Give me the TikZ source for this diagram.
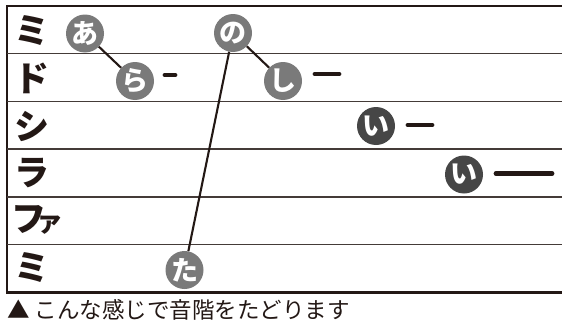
\documentclass[tikz,border=0pt]{standalone}
\usepackage{fontspec}
\setmainfont{Noto Sans CJK JP}
\definecolor{inkblack}{HTML}{231815}
\definecolor{notegray}{HTML}{7A7A7A}
\definecolor{notedark}{HTML}{464646}
\begin{document}
\begin{tikzpicture}[x=1pt,y=-1pt,
  note/.style={circle,fill=notegray,text=white,minimum size=38pt,inner sep=0pt,
    font=\fontsize{27}{27}\selectfont\bfseries},
  notelow/.style={note,fill=notedark},
  tone/.style={anchor=west,text=inkblack,inner sep=0pt,
    font=\fontsize{35}{35}\selectfont\bfseries},
  rowline/.style={draw=inkblack!85,line width=1.5pt},
  frameline/.style={draw=inkblack,line width=2.6pt},
  hold/.style={draw=inkblack,line width=4.8pt,line cap=round},
  jump/.style={draw=inkblack,line width=2.1pt}
  ]
\useasboundingbox (0,0) rectangle (562,324);
% staff
\draw[frameline] (562,6) -- (7,6) -- (7,292.5) -- (562,292.5);
\foreach \y in {53.7,101.4,149.1,196.8,244.5}
  \draw[rowline] (7,\y) -- (562,\y);
% scale names
\node[tone] (mi1) at (14,31) {ミ};
\node[tone] (do) at (14,78) {ド};
\node[tone] (si) at (14,126) {シ};
\node[tone] (la) at (14,173) {ラ};
\node[tone] (fa) at (11,220) {フ\kern-10pt{\fontsize{27}{27}\selectfont ァ}};
\node[tone] (mi2) at (14,268) {ミ};
% notes
\node[note] (a) at (85,33.5) {あ};
\node[note] (ra) at (135,81) {ら};
\node[note] (no) at (233,33) {の};
\node[note] (shi) at (283,81) {し};
\node[notelow] (i1) at (376,126) {い};
\node[notelow] (i2) at (464,174.5) {い};
\node[note] (ta) at (184.5,270) {た};
% long notes
\draw[hold] (165,75) -- (175,75);
\draw[hold] (315,74) -- (339,74);
\draw[hold] (408,125) -- (432,125);
\draw[hold] (496,173.5) -- (552,173.5);
% melody
\draw[jump] (a) -- (ra);
\draw[jump] (no) -- (shi);
\draw[jump] (no) -- (ta);
% caption
\node[anchor=west,inner sep=0pt,text=inkblack,font=\fontsize{22.5}{22.5}\selectfont]
  (cap) at (7,310) {▲ こんな感じで音階をたどります};
\end{tikzpicture}
\end{document}
